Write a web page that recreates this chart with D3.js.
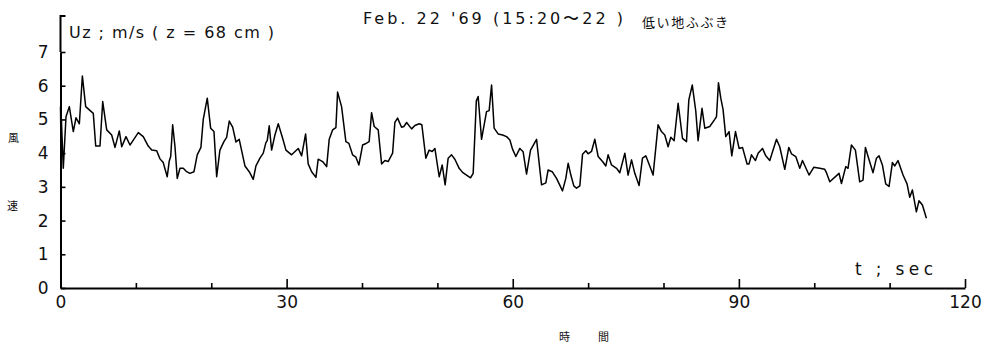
<!DOCTYPE html>
<html>
<head>
<meta charset="utf-8">
<script src="https://cdn.jsdelivr.net/npm/d3@7"></script>
<style>
  body { margin: 0; background: #fff; }
  text { font-family: "DejaVu Sans", sans-serif; fill: #111; }
  .jp { font-family: "Noto Sans CJK JP", sans-serif; }
</style>
</head>
<body>
<div id="chart"></div>
<script>
// wind speed trace (t in s, U in m/s)
var times = [0, 0.05, 0.12, 0.37, 0.73, 1.17, 1.70, 2.06, 2.50, 2.90, 3.34, 4.35, 4.67, 5.24, 5.60,
  6.13, 6.79, 7.23, 7.80, 8.12, 8.69, 9.22, 10.32, 10.98, 11.64, 12.10, 12.76, 13.20, 13.63, 14.16,
  14.43, 14.62, 14.88, 15.19, 15.49, 15.85, 16.29, 16.74, 17.17, 17.71, 18.14, 18.63, 18.94, 19.47,
  19.92, 20.36, 20.72, 21.15, 21.68, 22.04, 22.39, 22.84, 23.28, 23.71, 24.47, 25.04, 25.57, 25.93,
  26.46, 26.90, 27.25, 27.43, 27.69, 28.01, 28.45, 28.89, 29.47, 29.91, 30.66, 31.54, 31.99, 32.52,
  32.86, 33.32, 33.89, 34.19, 34.77, 35.31, 35.65, 36.10, 36.54, 36.76, 37.29, 37.51, 37.86, 38.26,
  38.75, 39.19, 39.59, 40.08, 40.38, 40.95, 41.27, 41.62, 42.15, 42.60, 43.04, 43.47, 44.06, 44.36,
  44.72, 45.25, 45.56, 45.92, 46.58, 47.02, 47.59, 47.94, 48.47, 48.91, 49.31, 49.67, 50.24, 50.64,
  51.03, 51.43, 51.88, 52.32, 52.89, 53.34, 53.87, 54.40, 54.75, 55.17, 55.41, 55.86, 56.52, 56.87,
  57.19, 57.53, 58.06, 58.65, 59.18, 59.62, 59.97, 60.41, 60.94, 61.38, 61.83, 62.36, 63.16, 63.82,
  64.39, 64.69, 65.23, 65.81, 66.60, 67.04, 67.35, 67.71, 68.10, 68.46, 68.90, 69.26, 69.70, 70.00,
  70.45, 70.89, 71.33, 71.91, 72.35, 72.65, 73.10, 73.77, 74.20, 74.87, 75.30, 75.76, 76.19, 76.76,
  77.21, 77.65, 78.18, 78.62, 79.28, 79.73, 80.17, 80.61, 80.97, 81.41, 81.94, 82.52, 83.05, 83.36,
  83.82, 84.28, 84.59, 85.11, 85.48, 86.14, 86.80, 87.03, 87.29, 87.60, 87.90, 88.26, 88.70, 89.06,
  89.55, 90.03, 90.48, 91.09, 91.35, 91.67, 92.20, 92.55, 93.13, 93.57, 94.10, 94.99, 95.42, 96.09,
  96.62, 96.98, 97.55, 98.08, 98.44, 99.31, 99.93, 100.73, 101.39, 101.62, 102.06, 103.29, 103.61,
  104.18, 104.48, 104.93, 105.46, 106.03, 106.47, 106.79, 107.14, 107.80, 108.25, 108.59, 109.04,
  109.48, 109.92, 110.37, 110.68, 111.11, 111.78, 112.31, 112.67, 113.02, 113.55, 113.90, 114.35, 114.88];

var speeds = [5.38, 4.49, 4.98, 3.55, 5.08, 5.38, 4.64, 5.05, 4.87, 6.29, 5.38, 5.18, 4.21, 4.21, 5.53,
  4.69, 4.54, 4.17, 4.66, 4.19, 4.49, 4.24, 4.61, 4.49, 4.21, 4.09, 4.07, 3.83, 3.72, 3.30,
  3.77, 3.90, 4.84, 4.19, 3.25, 3.55, 3.55, 3.45, 3.40, 3.45, 3.95, 4.17, 5.00, 5.63,
  4.74, 4.64, 3.30, 4.09, 4.34, 4.47, 4.95, 4.77, 4.33, 4.41, 3.62, 3.45, 3.22, 3.62,
  3.85, 4.00, 4.31, 4.37, 4.81, 4.09, 4.54, 4.87, 4.44, 4.09, 3.95, 4.14, 3.92, 4.57,
  3.68, 3.45, 3.28, 3.82, 3.75, 3.60, 4.41, 4.69, 4.76, 5.81, 5.38, 4.98, 4.34, 4.29,
  3.95, 3.88, 3.65, 4.24, 4.27, 4.34, 5.20, 4.79, 4.69, 3.68, 3.78, 3.75, 4.00, 4.91,
  5.04, 4.77, 4.79, 4.91, 4.72, 4.82, 4.87, 4.84, 3.85, 4.09, 4.05, 4.14, 3.30, 3.65,
  3.06, 3.85, 3.95, 3.82, 3.55, 3.43, 3.35, 3.27, 3.40, 5.55, 5.68, 4.41, 5.23, 5.26,
  6.02, 4.74, 4.57, 4.54, 4.49, 4.39, 4.12, 3.90, 4.14, 4.04, 3.38, 4.09, 4.41, 3.06,
  3.12, 3.50, 3.45, 3.25, 2.88, 3.25, 3.70, 3.35, 3.03, 2.96, 3.03, 3.97, 4.07, 3.98,
  4.05, 4.41, 3.90, 3.75, 3.62, 3.95, 3.65, 3.55, 3.42, 4.00, 3.35, 3.80, 3.40, 3.04,
  3.85, 3.92, 3.62, 3.35, 4.84, 4.64, 4.54, 4.19, 4.47, 4.37, 5.48, 4.44, 4.34, 5.58,
  6.02, 5.25, 4.37, 5.33, 4.74, 4.79, 5.00, 5.08, 6.09, 5.63, 5.30, 4.49, 4.64, 3.92,
  4.64, 4.14, 4.17, 3.68, 3.68, 3.95, 3.78, 4.00, 4.14, 3.92, 3.78, 4.41, 4.19, 3.52,
  4.17, 3.98, 3.90, 3.55, 3.78, 3.35, 3.58, 3.55, 3.52, 3.42, 3.15, 3.40, 3.10,
  3.60, 3.55, 4.24, 4.09, 3.15, 3.20, 4.17, 3.90, 3.42, 3.85, 3.92, 3.65,
  3.09, 3.01, 3.72, 3.62, 3.78, 3.35, 3.09, 2.69, 2.91, 2.26, 2.59, 2.46, 2.07];

var yTicks = [0, 1, 2, 3, 4, 5, 6, 7];
var xMinorTicks = [10, 20, 40, 50, 70, 80, 100, 110];
var xMajorTicks = [0, 30, 60, 90, 120];

var width = 990, height = 347;
var svg = d3.select("#chart").append("svg")
    .attr("width", width)
    .attr("height", height);

var x = d3.scaleLinear().domain([0, 120]).range([60.5, 965]);
var y = d3.scaleLinear().domain([0, 7]).range([288, 52]);

// Y axis, ticks pointing into the plot
var yAxis = svg.append("g")
    .attr("transform", "translate(" + x(0) + ",0)")
    .call(d3.axisLeft(y).tickValues(yTicks).tickFormat(d3.format("d"))
      .tickSizeInner(-5).tickSizeOuter(0).tickPadding(12));
yAxis.selectAll("text").style("font-size", "17px").style("font-family", "DejaVu Sans");
yAxis.selectAll("line").attr("stroke-width", 1.6);
yAxis.select(".domain").attr("stroke-width", 2);

// the axis line goes on above 7, with a small hook at the top
svg.append("path")
    .attr("d", "M" + x(0) + "," + y(7) + "V16h5")
    .attr("fill", "none").attr("stroke", "#000").attr("stroke-width", 2);

// X axis: short ticks every 10 s, long ticks with labels every 30 s
var xMinor = svg.append("g")
    .attr("transform", "translate(0," + y(0) + ")")
    .call(d3.axisBottom(x).tickValues(xMinorTicks).tickSizeInner(-5).tickSizeOuter(0).tickFormat(""));
xMinor.selectAll("line").attr("stroke-width", 1.6);
xMinor.select(".domain").attr("stroke-width", 2);

var xMajor = svg.append("g")
    .attr("transform", "translate(0," + y(0) + ")")
    .call(d3.axisBottom(x).tickValues(xMajorTicks).tickSizeInner(-9).tickSizeOuter(0).tickPadding(8));
xMajor.select(".domain").remove();
xMajor.selectAll("line").attr("stroke-width", 1.6)
    .attr("opacity", function(d) { return d === 0 ? 0 : 1; });
xMajor.selectAll("text").style("font-size", "17px").style("font-family", "DejaVu Sans");

// wind speed line
var line = d3.line()
    .x(function(d, i) { return x(times[i]); })
    .y(function(d) { return y(d); });

svg.append("path")
    .datum(speeds)
    .attr("d", line)
    .attr("fill", "none")
    .attr("stroke", "#000")
    .attr("stroke-width", 1.5)
    .attr("stroke-linejoin", "round");

// labels
svg.append("text")
    .attr("x", 69).attr("y", 37.5)
    .attr("textLength", 205).attr("lengthAdjust", "spacing")
    .style("font-size", "16px")
    .text("Uz ; m/s ( z = 68 cm )");

svg.append("text")
    .attr("x", 363).attr("y", 23.5)
    .attr("textLength", 260).attr("lengthAdjust", "spacing")
    .style("font-size", "16px")
    .text("Feb. 22 '69 (15:20\u301C22 )");

svg.append("text")
    .attr("class", "jp")
    .attr("x", 642).attr("y", 27)
    .attr("textLength", 86).attr("lengthAdjust", "spacing")
    .style("font-size", "13px")
    .text("低い地ふぶき");

svg.append("text")
    .attr("x", 855).attr("y", 275)
    .attr("textLength", 78).attr("lengthAdjust", "spacing")
    .style("font-size", "17px")
    .text("t ; sec");

svg.append("text").attr("class", "jp")
    .attr("x", 8).attr("y", 142).style("font-size", "11px").text("風");
svg.append("text").attr("class", "jp")
    .attr("x", 7).attr("y", 210).style("font-size", "11px").text("速");
svg.append("text").attr("class", "jp")
    .attr("x", 559).attr("y", 341).style("font-size", "11px").text("時");
svg.append("text").attr("class", "jp")
    .attr("x", 598).attr("y", 341).style("font-size", "11px").text("間");
</script>
</body>
</html>
